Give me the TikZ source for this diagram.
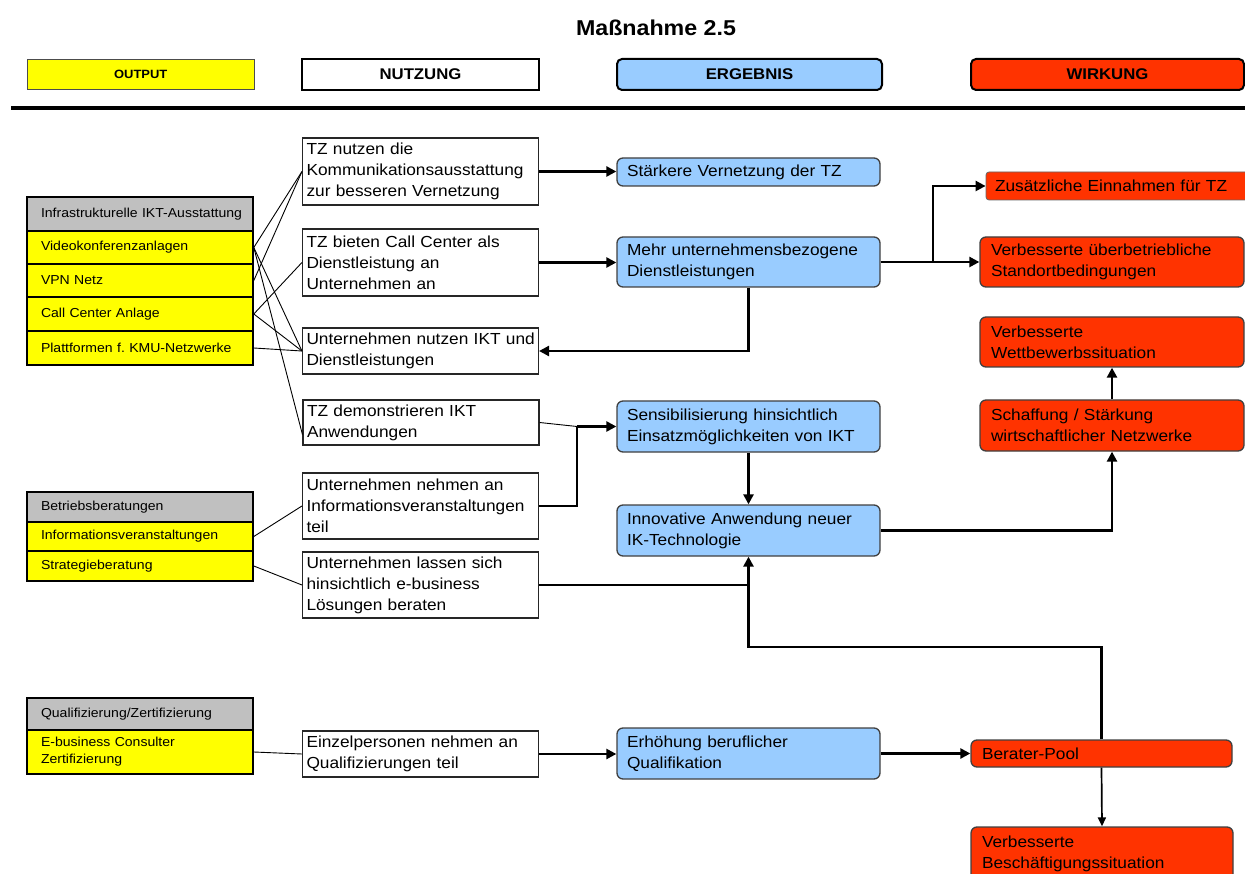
\documentclass[tikz,border=0pt]{standalone}
\usepackage{fontspec}
\setmainfont{Liberation Sans}[FakeStretch=1.08]
\usetikzlibrary{arrows.meta}
\definecolor{yel}{HTML}{FFFF00}
\definecolor{blu}{HTML}{99CCFF}
\definecolor{rd}{HTML}{FF3300}
\definecolor{gry}{HTML}{C0C0C0}
\begin{document}
\begin{tikzpicture}[x=1pt,y=-1pt,
  hdr/.style={draw=black, line width=2pt, minimum height=31pt, inner sep=0pt, font=\bfseries\fontsize{15.5}{18}\selectfont},
  nbox/.style={draw=black!85, line width=1.1pt, fill=white, rectangle, inner xsep=4pt, inner ysep=0pt, align=left,
    minimum width=236pt, text width=228pt, font=\fontsize{16}{21}\selectfont},
  bbox/.style={draw=black!75, line width=1.3pt, fill=blu, rounded corners=6pt, inner xsep=10pt, inner ysep=0pt, align=left,
    minimum width=263pt, text width=243pt, font=\fontsize{16}{21}\selectfont},
  rbox/.style={draw=black!75, line width=1.3pt, fill=rd, rounded corners=6pt, inner xsep=11pt, inner ysep=0pt, align=left,
    minimum width=264pt, text width=242pt, font=\fontsize{16}{21}\selectfont},
  gbox/.style={draw=black, line width=1.6pt, fill=yel, inner xsep=14pt, inner ysep=0pt, align=left,
    minimum width=226pt, text width=198pt, font=\fontsize{13}{17}\selectfont},
  ghead/.style={gbox, fill=gry},
  thin1/.style={line width=0.9pt},
  thk/.style={line width=2.4pt},
  arr/.style={line width=2.4pt, -{Triangle[length=10pt,width=10pt]}},
  arr2/.style={line width=1.7pt, -{Triangle[length=9pt,width=8pt]}}
]
\useasboundingbox (0,0) rectangle (1245,874);

% title and header
\node[font=\bfseries\fontsize{21.5}{24}\selectfont] (title) at (656,27.5) {Maßnahme 2.5};
\node[hdr, fill=yel, draw=black!70, line width=0.8pt, minimum width=226.5pt, minimum height=29.5pt,
  font=\bfseries\fontsize{12}{14}\selectfont] (hout) at (140.75,74.25) {OUTPUT};
\node[hdr, fill=white, minimum width=237pt] (hnutz) at (420.5,74.5) {NUTZUNG};
\node[hdr, fill=blu, rounded corners=5pt, minimum width=265pt] (herg) at (749.5,74.5) {ERGEBNIS};
\node[hdr, fill=rd, rounded corners=5pt, minimum width=273pt] (hwirk) at (1107.5,74.5) {WIRKUNG};
\coordinate (rl) at (11,108.5);
\coordinate (rr) at (1245,108.5);
\draw[line width=4pt] (rl) -- (rr);

% OUTPUT groups
\node[ghead, minimum height=34pt] (g1h) at (140,214) {\mbox{Infrastrukturelle IKT-Ausstattung}};
\node[gbox, minimum height=33pt] (video) at (140,247.5) {Videokonferenzanlagen};
\node[gbox, minimum height=33pt] (vpn) at (140,280.5) {VPN Netz};
\node[gbox, minimum height=34pt] (call) at (140,314) {Call Center Anlage};
\node[gbox, minimum height=34pt] (platt) at (140,348) {Plattformen f.\ KMU-Netzwerke};

\node[ghead, minimum height=30pt] (g2h) at (140,507) {Betriebsberatungen};
\node[gbox, minimum height=29pt] (info) at (140,536.5) {Informationsveranstaltungen};
\node[gbox, minimum height=30pt] (strat) at (140,566) {Strategieberatung};

\node[ghead, minimum height=32pt] (g3h) at (140,714) {Qualifizierung/Zertifizierung};
\node[gbox, minimum height=44pt] (qual) at (140,752) {E-business Consulter\\Zertifizierung};

% NUTZUNG
\node[nbox, minimum height=67pt] (tznutzen) at (420.5,171.5) {TZ nutzen die\\Kommunikationsausstattung\\zur besseren Vernetzung};
\node[nbox, minimum height=67pt] (tzbieten) at (420.5,262.5) {TZ bieten Call Center als\\Dienstleistung an\\Unternehmen an};
\node[nbox, minimum height=46pt] (unutzen) at (420.5,351) {\mbox{Unternehmen nutzen IKT und}\\Dienstleistungen};
\node[nbox, minimum height=45pt] (tzdemo) at (421,422.5) {TZ demonstrieren IKT\\Anwendungen};
\node[nbox, minimum height=66pt] (unehmen) at (420.5,506) {Unternehmen nehmen an\\Informationsveranstaltungen\\teil};
\node[nbox, minimum height=66pt] (ulassen) at (420.5,585) {Unternehmen lassen sich\\hinsichtlich e-business\\Lösungen beraten};
\node[nbox, minimum height=46pt] (einzel) at (420.5,754) {Einzelpersonen nehmen an\\Qualifizierungen teil};

% ERGEBNIS
\node[bbox, minimum height=28pt] (staerker) at (748.5,172) {Stärkere Vernetzung der TZ};
\node[bbox, minimum height=50pt] (mehr) at (748.5,262) {Mehr unternehmensbezogene\\Dienstleistungen};
\node[bbox, minimum height=51pt] (sens) at (748.5,426.5) {Sensibilisierung hinsichtlich\\Einsatzmöglichkeiten von IKT};
\node[bbox, minimum height=51pt] (innov) at (748.5,530.5) {Innovative Anwendung neuer\\IK-Technologie};
\node[bbox, minimum height=51pt] (erhoeh) at (748.5,753.5) {Erhöhung beruflicher\\Qualifikation};

% WIRKUNG
\node[rbox, draw=black!60, line width=0.8pt, rounded corners=3pt, inner xsep=9pt, minimum width=276pt, text width=258pt,
  minimum height=28pt] (zusatz) at (1124,186) {Zusätzliche Einnahmen für TZ};
\node[rbox, minimum height=50pt] (standort) at (1112,262) {Verbesserte überbetriebliche\\Standortbedingungen};
\node[rbox, minimum height=50pt] (wettbew) at (1112,342) {Verbesserte\\Wettbewerbssituation};
\node[rbox, minimum height=51pt] (schaff) at (1112,425.5) {Schaffung / Stärkung\\wirtschaftlicher Netzwerke};
\node[rbox, minimum width=261pt, text width=239pt, minimum height=27pt] (berater) at (1101.5,753.5) {Berater-Pool};
\node[rbox, minimum width=262pt, text width=240pt, minimum height=53pt] (besch) at (1102,853.5) {Verbesserte\\Beschäftigungssituation};

% thin connectors from OUTPUT to NUTZUNG
\draw[thin1] (video.east) -- (tznutzen.west);
\draw[thin1] (video.east) -- (unutzen.west);
\draw[thin1] (video.east) -- ([yshift=-12pt]tzdemo.west);
\draw[thin1] (vpn.east) -- (tznutzen.west);
\draw[thin1] (call.east) -- (tzbieten.west);
\draw[thin1] (call.east) -- (unutzen.west);
\draw[thin1] (platt.east) -- (unutzen.west);
\draw[thin1] (info.east) -- (unehmen.west);
\draw[thin1] (strat.east) -- (ulassen.west);
\draw[thin1] (qual.east) -- (einzel.west);

% junction points
\coordinate (j1) at (577,0 |- sens.west);
\coordinate (j2) at (innov.south |- 0,647);
\coordinate (j3) at (933,0 |- mehr.east);

% thick connectors
\draw[arr] (tznutzen.east) -- (tznutzen.east -| staerker.west);
\draw[arr] (tzbieten.east) -- (tzbieten.east -| mehr.west);
\draw[thk] (mehr.east) -- (j3);
\draw[arr] (j3) |- (zusatz.west);
\draw[arr] (j3) -- (j3 -| standort.west);
\draw[arr] (mehr.south) |- (unutzen.east);
\draw[thin1] (tzdemo.east) -- (j1);
\draw[thk] (unehmen.east) -| (j1);
\draw[arr] (j1) -- (j1 -| sens.west);
\draw[arr] (sens.south) -- (innov.north);
\draw[thk] (ulassen.east) -- (ulassen.east -| j2);
\draw[arr] (berater.north) |- (j2) -- (j2 |- innov.south);
\draw[arr] (innov.east) -| (schaff.south);
\draw[arr] (schaff.north) -- (wettbew.south);
\draw[arr] (einzel.east) -- (einzel.east -| erhoeh.west);
\draw[arr] (erhoeh.east) -- (erhoeh.east -| berater.west);
\draw[arr2] (berater.south) -- (besch.north);
\end{tikzpicture}
\end{document}
